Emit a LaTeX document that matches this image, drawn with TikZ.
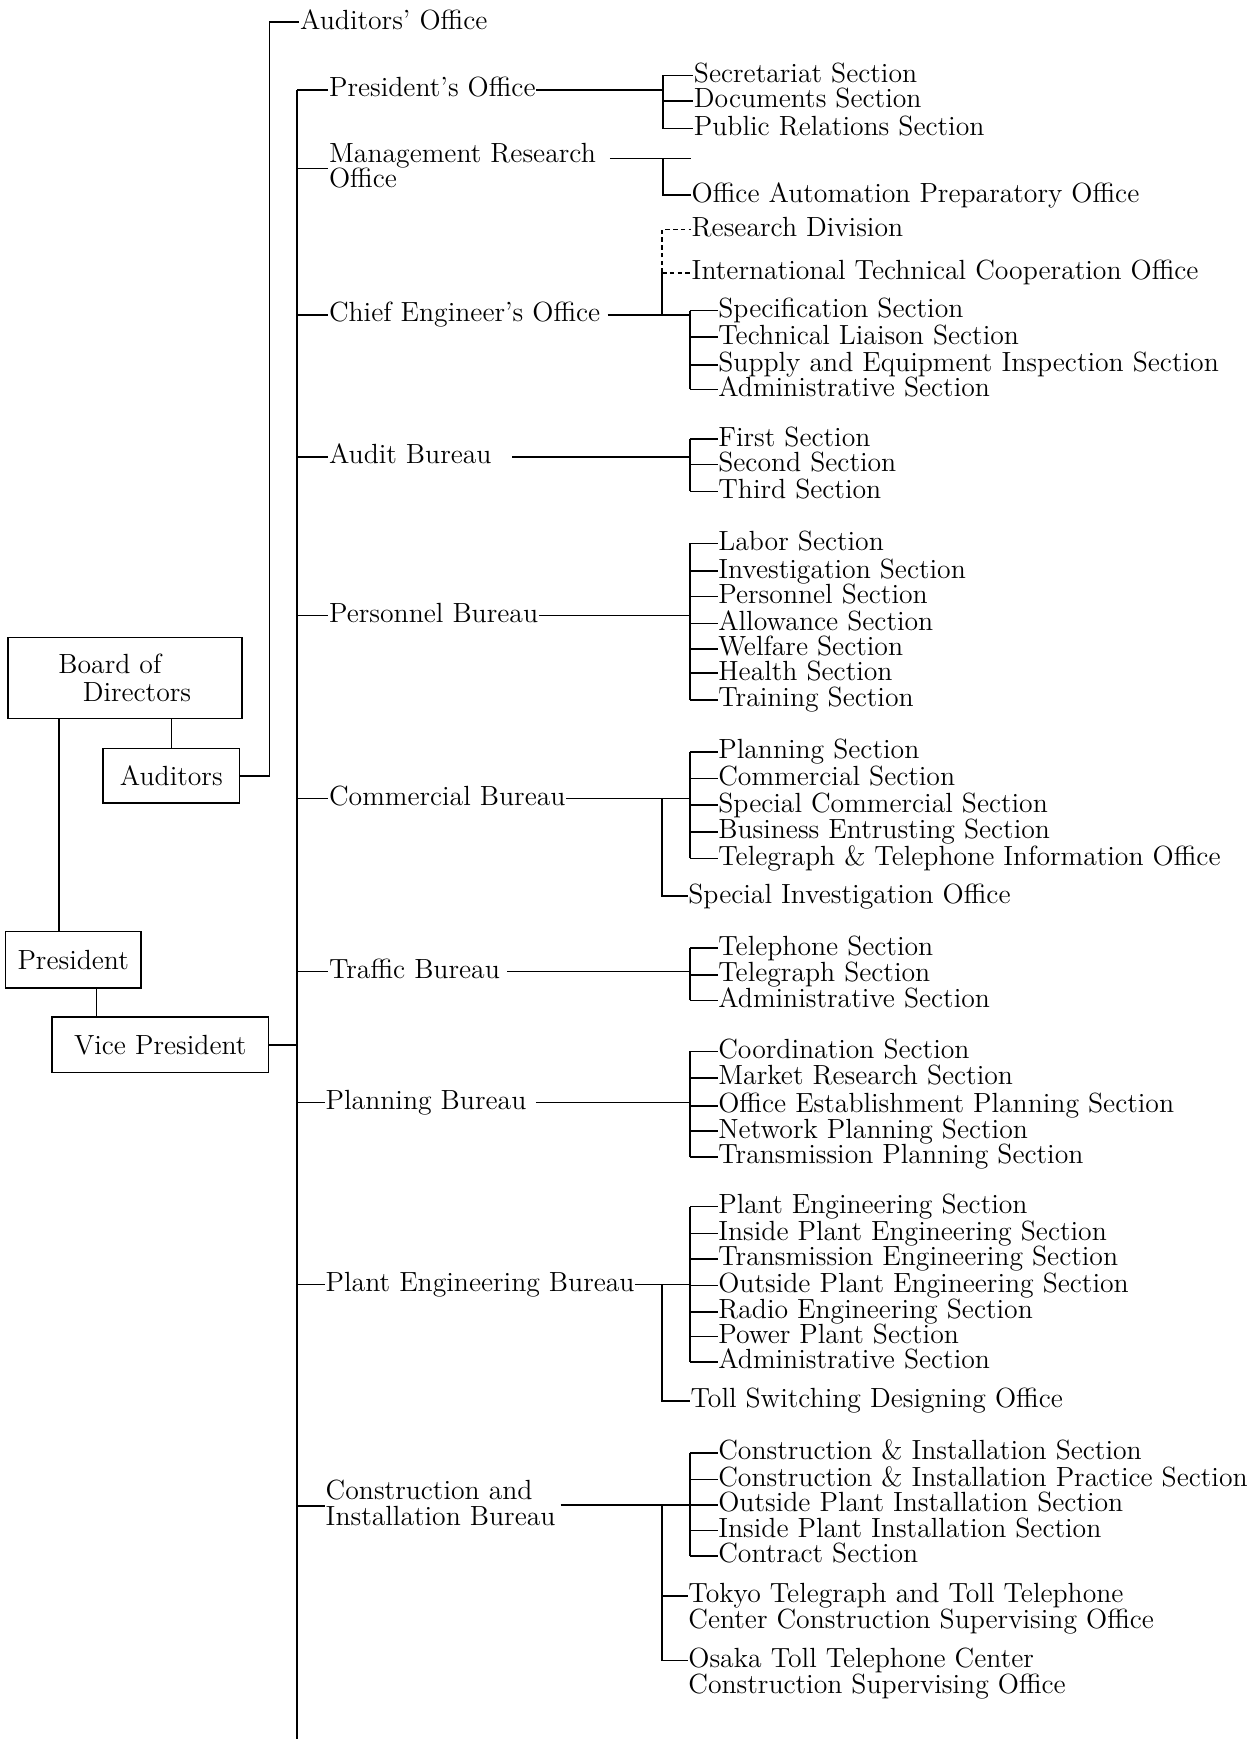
\documentclass[tikz,border=0pt]{standalone}
\usepackage{tikz}
\usetikzlibrary{calc}
\newcommand\chartfont{\fontsize{12.5}{12.5}\selectfont}
\begin{document}
\begin{tikzpicture}[x=0.5pt,y=-0.5pt,line width=0.7pt,
  lbl/.style={anchor=west,inner sep=0pt,font=\chartfont,text height=8.8pt,text depth=2.6pt},
  box/.style={draw,inner sep=0pt,font=\chartfont,align=center},
  dotline/.style={dash pattern=on 2pt off 1.5pt}]
\useasboundingbox (0,0) rectangle (1128,1568);

% ---------- boxes ----------
\node[box,minimum width=105.5pt,minimum height=36.5pt,align=left] (board) at (112.5,611.5) {Board of\\\hspace*{11pt}Directors};
\node[box,minimum width=61.5pt,minimum height=24.5pt] (aud) at (154.5,699.5) {Auditors};
\node[box,minimum width=61pt,minimum height=25.5pt] (pres) at (66,865.5) {President};
\node[box,minimum width=97.5pt,minimum height=25pt] (vp) at (144.5,942) {Vice President};

\coordinate (bpx) at (53,0);
\coordinate (pvx) at (87,0);
\coordinate (ax) at (243,0);
\coordinate (spine) at (268,0);
\coordinate (spinebot) at (268,1568);

\draw (board.south -| bpx) -- (pres.north -| bpx);
\draw (aud.north) -- (aud.north |- board.south);
\draw (pres.south -| pvx) -- (vp.north -| pvx);

% ---------- first level ----------
\node[lbl] (ao) at (270,20) {Auditors' Office};
\draw (aud.east) -| (ax |- ao.west) -- (ao.west);

\node[lbl] (po) at (296,81) {President's Office};
\node[lbl] (mr1) at (296,140) {Management Research};
\node[lbl] (mr2) at (296,163) {Office};
\node[lbl] (ce) at (296,284) {Chief Engineer's Office};
\node[lbl] (ab) at (296,412) {Audit Bureau};
\node[lbl] (pb) at (296,555) {Personnel Bureau};
\node[lbl] (cb) at (296,720) {Commercial Bureau};
\node[lbl] (tb) at (296,876) {Traffic Bureau};
\node[lbl] (pl) at (293,994) {Planning Bureau};
\node[lbl] (peb) at (293,1158) {Plant Engineering Bureau};
\node[lbl] (cib1) at (293,1346) {Construction and};
\node[lbl] (cib2) at (293,1369) {Installation Bureau};

\draw (spine |- po.west) -- (spinebot);
\draw (vp.east) -- (vp.east -| spine);
\foreach \nm in {po,ce,ab,pb,cb,tb,pl,peb}
  \draw (spine |- \nm.west) -- (\nm.west);
\draw (spine |- mr1.south west) -- (mr1.south west);
\draw (spine |- cib1.south west) -- (cib1.south west);

% ---------- second level coordinates ----------
\coordinate (bA) at (598,0);
\coordinate (jB) at (597,0);
\coordinate (bC) at (622,0);

% President's Office
\foreach \nm/\yy/\tx in {p1/68/Secretariat Section,p2/91/Documents Section,p3/116/Public Relations Section}
  \node[lbl] (\nm) at (625,\yy) {\tx};
\draw (po.east) -- (bA |- po.east);
\draw (bA |- p1.west) -- (bA |- p3.west);
\foreach \nm in {p1,p2,p3} \draw (bA |- \nm.west) -- (\nm.west);

% Management Research Office
\node[lbl] (oap) at (623,176) {Office Automation Preparatory Office};
\draw ($(mr1.east)+(6pt,3)$) -- ($(oap.west |- mr1.east)+(0,3)$);
\draw ($(bA |- mr1.east)+(0,3)$) -- (bA |- oap.west) -- (oap.west);

% Chief Engineer's Office
\node[lbl] (rd) at (623,207) {Research Division};
\node[lbl] (itc) at (623,246) {International Technical Cooperation Office};
\foreach \nm/\yy/\tx in {c1/280/Specification Section,c2/304/Technical Liaison Section,c3/329/Supply and Equipment Inspection Section,c4/351/Administrative Section}
  \node[lbl] (\nm) at (647,\yy) {\tx};
\draw ($(ce.east)+(3pt,0)$) -- (bC |- ce.east);
\draw (jB |- ce.east) -- (jB |- itc.west);
\draw[dotline] (jB |- itc.west) -- (jB |- rd.west) -- (rd.west);
\draw[dotline] (jB |- itc.west) -- (itc.west);
\draw (bC |- c1.west) -- (bC |- c4.west);
\foreach \nm in {c1,c2,c3,c4} \draw (bC |- \nm.west) -- (\nm.west);

% Audit Bureau
\foreach \nm/\yy/\tx in {a1/396/First Section,a2/419/Second Section,a3/443/Third Section}
  \node[lbl] (\nm) at (647,\yy) {\tx};
\draw ($(ab.east)+(9pt,0)$) -- (bC |- ab.east);
\draw (bC |- a1.west) -- (bC |- a3.west);
\foreach \nm in {a1,a2,a3} \draw (bC |- \nm.west) -- (\nm.west);

% Personnel Bureau
\foreach \nm/\yy/\tx in {h1/490/Labor Section,h2/515/Investigation Section,h3/538/Personnel Section,h4/562/Allowance Section,h5/585/Welfare Section,h6/607/Health Section,h7/631/Training Section}
  \node[lbl] (\nm) at (647,\yy) {\tx};
\draw (pb.east) -- (bC |- pb.east);
\draw (bC |- h1.west) -- (bC |- h7.west);
\foreach \nm in {h1,h2,h3,h4,h5,h6,h7} \draw (bC |- \nm.west) -- (\nm.west);

% Commercial Bureau
\foreach \nm/\yy/\tx in {m1/678/Planning Section,m2/702/Commercial Section,m3/726/Special Commercial Section,m4/750/Business Entrusting Section,m5/774/Telegraph \& Telephone Information Office}
  \node[lbl] (\nm) at (647,\yy) {\tx};
\node[lbl] (sio) at (620,808) {Special Investigation Office};
\draw (cb.east) -- (bC |- cb.east);
\draw (jB |- cb.east) -- (jB |- sio.west) -- (sio.west);
\draw (bC |- m1.west) -- (bC |- m5.west);
\foreach \nm in {m1,m2,m3,m4,m5} \draw (bC |- \nm.west) -- (\nm.west);

% Traffic Bureau
\foreach \nm/\yy/\tx in {t1/855/Telephone Section,t2/879/Telegraph Section,t3/902/Administrative Section}
  \node[lbl] (\nm) at (647,\yy) {\tx};
\draw ($(tb.east)+(3pt,0)$) -- (bC |- tb.east);
\draw (bC |- t1.west) -- (bC |- t3.west);
\foreach \nm in {t1,t2,t3} \draw (bC |- \nm.west) -- (\nm.west);

% Planning Bureau
\foreach \nm/\yy/\tx in {g1/948/Coordination Section,g2/972/Market Research Section,g3/997/Office Establishment Planning Section,g4/1020/Network Planning Section,g5/1043/Transmission Planning Section}
  \node[lbl] (\nm) at (647,\yy) {\tx};
\draw ($(pl.east)+(4pt,0)$) -- (bC |- pl.east);
\draw (bC |- g1.west) -- (bC |- g5.west);
\foreach \nm in {g1,g2,g3,g4,g5} \draw (bC |- \nm.west) -- (\nm.west);

% Plant Engineering Bureau
\foreach \nm/\yy/\tx in {e1/1088/Plant Engineering Section,e2/1112/Inside Plant Engineering Section,e3/1135/Transmission Engineering Section,e4/1159/Outside Plant Engineering Section,e5/1183/Radio Engineering Section,e6/1205/Power Plant Section,e7/1228/Administrative Section}
  \node[lbl] (\nm) at (647,\yy) {\tx};
\node[lbl] (toll) at (622,1263) {Toll Switching Designing Office};
\draw (peb.east) -- (bC |- peb.east);
\draw (jB |- peb.east) -- (jB |- toll.west) -- (toll.west);
\draw (bC |- e1.west) -- (bC |- e7.west);
\foreach \nm in {e1,e2,e3,e4,e5,e6,e7} \draw (bC |- \nm.west) -- (\nm.west);

% Construction and Installation Bureau
\foreach \nm/\yy/\tx in {k1/1310/Construction \& Installation Section,k2/1334/Construction \& Installation Practice Section,k3/1357/Outside Plant Installation Section,k4/1380/Inside Plant Installation Section,k5/1403/Contract Section}
  \node[lbl] (\nm) at (647,\yy) {\tx};
\node[lbl] (tok1) at (620,1439) {Tokyo Telegraph and Toll Telephone};
\node[lbl] (tok2) at (620,1462) {Center Construction Supervising Office};
\node[lbl] (osa1) at (620,1497) {Osaka Toll Telephone Center};
\node[lbl] (osa2) at (620,1521) {Construction Supervising Office};
\coordinate (cibr) at ($(cib2.north east)+(2pt,0)$);
\draw (cibr) -- (bC |- cibr);
\draw (jB |- cibr) -- (jB |- osa1.west) -- (osa1.west);
\draw (jB |- tok1.west) -- (tok1.west);
\draw (bC |- k1.west) -- (bC |- k5.west);
\foreach \nm in {k1,k2,k3,k4,k5} \draw (bC |- \nm.west) -- (\nm.west);
\end{tikzpicture}
\end{document}
